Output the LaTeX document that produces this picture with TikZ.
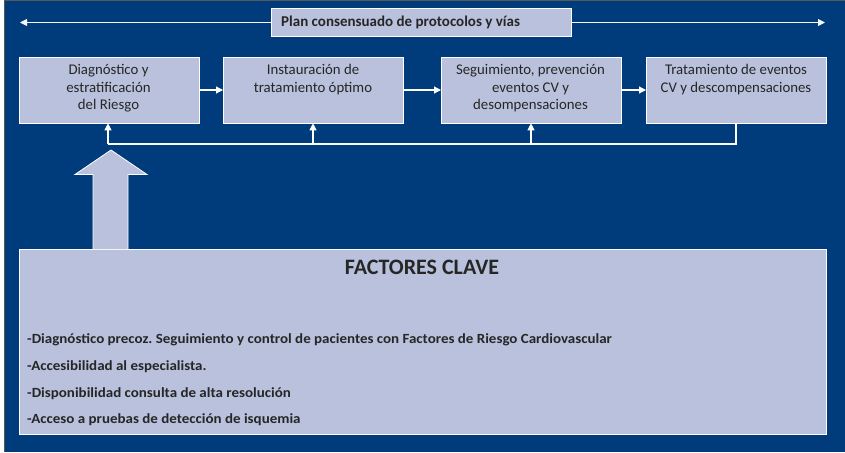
\documentclass[tikz,border=0pt]{standalone}
\usepackage{fontspec}
\setmainfont{Carlito}
\frenchspacing
\usetikzlibrary{arrows.meta}
\definecolor{bgblue}{HTML}{003B7B}
\definecolor{lav}{HTML}{B9C1DC}
\definecolor{txt}{HTML}{262626}
\tikzset{
  procbox/.style={draw=white, line width=0.8pt, fill=lav, minimum width=180pt, minimum height=65pt, anchor=north west, inner sep=0pt},
  proctext/.style={anchor=north, align=center, text=txt, font=\fontsize{14.8}{17.5}\selectfont, inner sep=0pt},
  flow/.style={draw=white, line width=1.1pt, -{Triangle[length=7pt,width=7pt]}},
}
\begin{document}
\begin{tikzpicture}[x=1pt,y=-1pt]
\useasboundingbox (0,0) rectangle (845,452);
\fill[bgblue] (4,0) rectangle (845,452);
\draw[gray!70!black, line width=1.5pt] (4.5,452) -- (4.5,0.7) -- (845,0.7);
% top double arrow
\coordinate (tl) at (20,22.5);
\coordinate (tr) at (825,22.5);
\draw[white!85!lav, line width=1pt, {Triangle[length=7pt,width=7pt]}-{Triangle[length=7pt,width=7pt]}] (tl) -- (tr);
\node[draw=white, line width=0.8pt, fill=lav, minimum width=300pt, minimum height=28pt, inner sep=0pt] (plan) at (421,22.5) {};
\node[anchor=west, text=txt, inner sep=0pt, font=\bfseries\fontsize{15}{18}\selectfont] (plantxt) at (281,22.5) {Plan consensuado de protocolos y vías};
% process boxes
\node[procbox] (b1) at (19,57.5) {};
\node[procbox] (b2) at (223,57.5) {};
\node[procbox] (b3) at (441,57.5) {};
\node[procbox] (b4) at (646,57.5) {};
\node[proctext] (t1) at (108.5,64.5) {Diagnóstico y\\estratificación\\del Riesgo};
\node[proctext] (t2) at (313,64.5) {Instauración de\\tratamiento óptimo};
\node[proctext] (t3) at (530.5,64.5) {Seguimiento, prevención\\eventos CV y\\desompensaciones};
\node[proctext] (t4) at (736,64.5) {Tratamiento de eventos\\CV y descompensaciones};
\draw[flow] (b1.east |- 0,90) -- (b2.west |- 0,90);
\draw[flow] (b2.east |- 0,90) -- (b3.west |- 0,90);
\draw[flow] (b3.east |- 0,90) -- (b4.west |- 0,90);
% feedback
\coordinate (fbr) at (736,144);
\coordinate (fbl) at (108,144);
\coordinate (fb2) at (313,144);
\coordinate (fb3) at (531,144);
\draw[draw=white, line width=1.1pt] (b4.south -| fbr) -- (fbr) -- (fbl);
\draw[flow] (fbl) -- (fbl |- b1.south);
\draw[flow] (fb2) -- (fb2 |- b2.south);
\draw[flow] (fb3) -- (fb3 |- b3.south);
% factores clave box and big arrow
\node[draw=white, line width=0.8pt, fill=lav, minimum width=807pt, minimum height=185pt, anchor=north west] (fk) at (19,248.5) {};
\draw[draw=white, line width=0.8pt, fill=lav] (93,249) -- (93,174.5) -- (75,174.5) -- (111,150) -- (147,174.5) -- (128,174.5) -- (128,249);
\node[text=txt, font=\bfseries\fontsize{22}{24}\selectfont, inner sep=0pt] (title) at (422,267.5) {FACTORES CLAVE};
\begin{scope}[every node/.style={anchor=base west, text=txt, inner sep=0pt, font=\bfseries\fontsize{14}{15}\selectfont}]
\node (l1) at (27,343) {\scalebox{1.07}[1]{-Diagnóstico precoz. Seguimiento y control de pacientes con Factores de Riesgo Cardiovascular}};
\node (l2) at (27,370) {\scalebox{1.07}[1]{-Accesibilidad al especialista.}};
\node (l3) at (27,397) {\scalebox{1.07}[1]{-Disponibilidad consulta de alta resolución}};
\node (l4) at (27,423) {\scalebox{1.07}[1]{-Acceso a pruebas de detección de isquemia}};
\end{scope}
\end{tikzpicture}
\end{document}
